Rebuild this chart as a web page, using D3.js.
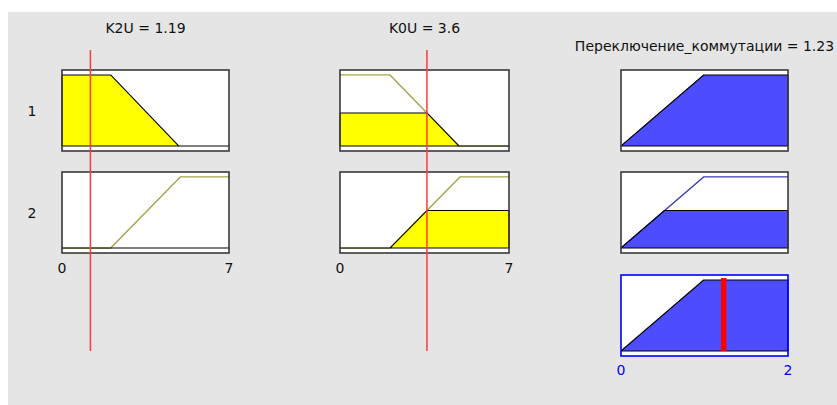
<!DOCTYPE html>
<html>
<head>
<meta charset="utf-8">
<script src="https://cdn.jsdelivr.net/npm/d3@7/dist/d3.min.js"></script>
<style>
  html, body { margin: 0; padding: 0; background: #fff; }
  svg { display: block; font-family: "DejaVu Sans", "Liberation Sans", Arial, sans-serif; }
</style>
</head>
<body>
<svg id="chart" width="837" height="405"></svg>
<script>
const inputLabels = ["K2U", "K0U"];
const inputValues = [1.19, 3.6];
const inputRange = [0, 7];
const outputLabel = "Переключение_коммутации";
const outputValue = 1.23;
const outputRange = [0, 2];
const ruleLabels = ["1", "2"];

// membership functions as [x, mu] breakpoints
const k2uMfs = [
  [[0, 1], [2.04, 1], [4.9, 0], [7, 0]],
  [[0, 0], [2.04, 0], [4.96, 1], [7, 1]],
];
const k0uMfs = [
  [[0, 1], [2.07, 1], [4.93, 0], [7, 0]],
  [[0, 0], [2.07, 0], [4.97, 1], [7, 1]],
];
const outputMfs = [
  [[0, 0], [0.99, 1], [2, 1]],
];
// which MF each rule uses: [input1, input2], output
const ruleInputMf = [[0, 0], [1, 1]];
const ruleOutputMf = [0, 0];

const inputMfs = [k2uMfs, k0uMfs];

const COLORS = {
  bg: "#e5e5e5",
  yellow: "#ffff00",
  blue: "#4d4dff",
  olive: "#a3a348",
  navy: "#3a3ab8",
  box: "#3a3a3a",
  red: "#ff3b3b",
};

function mu(points, x) {
  for (let i = 0; i < points.length - 1; i++) {
    const [x0, y0] = points[i];
    const [x1, y1] = points[i + 1];
    if (x >= x0 && x <= x1) return x1 === x0 ? y1 : y0 + (y1 - y0) * (x - x0) / (x1 - x0);
  }
  return 0;
}

// polyline of min(mu, level)
function clip(points, level) {
  const out = [];
  for (let i = 0; i < points.length; i++) {
    const [x0, y0] = points[i];
    out.push([x0, Math.min(y0, level)]);
    if (i < points.length - 1) {
      const [x1, y1] = points[i + 1];
      if ((y0 - level) * (y1 - level) < 0) {
        out.push([x0 + (x1 - x0) * (level - y0) / (y1 - y0), level]);
      }
    }
  }
  return out;
}

// rule strengths (OR -> max)
const inputDegrees = ruleInputMf.map((mfs) =>
  mfs.map((m, i) => mu(inputMfs[i][m], inputValues[i]))
);
const ruleStrength = inputDegrees.map((d) => d3.max(d));

const svg = d3.select("#chart");
svg.append("rect").attr("x", 8).attr("y", 12).attr("width", 829).attr("height", 393).attr("fill", COLORS.bg);

const colX = [[62, 229], [340, 509], [621, 788]];
const rowTop = [70, 172, 275];
const boxH = 81;
const FONT = 14;

function cellScales(col, row, domain) {
  const x = d3.scaleLinear().domain(domain).range(colX[col]);
  const y = d3.scaleLinear().domain([-0.07, 1.07]).range([rowTop[row] + boxH, rowTop[row]]);
  return { x, y };
}

function drawCell(col, row, domain, mfPoints, level, fillColor, lineColor, boxColor) {
  const { x, y } = cellScales(col, row, domain);
  const g = svg.append("g");
  g.append("rect")
    .attr("x", x.range()[0]).attr("y", rowTop[row])
    .attr("width", x.range()[1] - x.range()[0]).attr("height", boxH)
    .attr("fill", "#fff");

  const line = d3.line().x((d) => x(d[0])).y((d) => y(d[1]));
  if (lineColor) {
    g.append("path").attr("d", line(mfPoints)).attr("fill", "none")
      .attr("stroke", lineColor).attr("stroke-width", 1.3);
  }
  const clipped = clip(mfPoints, level);
  const poly = clipped.concat([[domain[1], 0], [domain[0], 0]]);
  g.append("path").attr("d", line(poly) + "Z")
    .attr("fill", fillColor).attr("stroke", "#000").attr("stroke-width", 1.1)
    .attr("stroke-linejoin", "round");

  g.append("rect")
    .attr("x", x.range()[0]).attr("y", rowTop[row])
    .attr("width", x.range()[1] - x.range()[0]).attr("height", boxH)
    .attr("fill", "none").attr("stroke", boxColor).attr("stroke-width", 1.6);
  return { x, y };
}

// input columns
inputLabels.forEach((label, i) => {
  ruleLabels.forEach((r, ri) => {
    const m = ruleInputMf[ri][i];
    const deg = inputDegrees[ri][i];
    drawCell(i, ri, inputRange, inputMfs[i][m], deg, COLORS.yellow, deg < 1 ? COLORS.olive : null, COLORS.box);
  });
  const x = d3.scaleLinear().domain(inputRange).range(colX[i]);
  svg.append("text")
    .attr("x", (colX[i][0] + colX[i][1]) / 2).attr("y", 33)
    .attr("text-anchor", "middle").attr("font-size", FONT).attr("fill", "#111")
    .text(`${label} = ${inputValues[i]}`);
  svg.selectAll(null).data(inputRange).join("text")
    .attr("x", (d) => x(d)).attr("y", 273)
    .attr("text-anchor", "middle").attr("font-size", FONT).attr("fill", "#111")
    .text((d) => d);
});

// output column, one row per rule
ruleLabels.forEach((r, ri) => {
  const level = ruleStrength[ri];
  drawCell(2, ri, outputRange, outputMfs[ruleOutputMf[ri]], level, COLORS.blue, level < 1 ? COLORS.navy : null, COLORS.box);
  svg.append("text")
    .attr("x", 32).attr("y", rowTop[ri] + boxH / 2 + 5)
    .attr("text-anchor", "middle").attr("font-size", FONT).attr("fill", "#111")
    .text(r);
});

// aggregated output
const aggMf = outputMfs[0].map(([px]) => [px, d3.max(ruleStrength.map((s, ri) => Math.min(s, mu(outputMfs[ruleOutputMf[ri]], px))))]);
const agg = drawCell(2, 2, outputRange, aggMf, 1, COLORS.blue, null, "#0000ff");
svg.append("line")
  .attr("x1", agg.x(outputValue)).attr("x2", agg.x(outputValue))
  .attr("y1", rowTop[2] + 3).attr("y2", rowTop[2] + boxH - 5)
  .attr("stroke", "#ff0000").attr("stroke-width", 5.5);
svg.selectAll(null).data(outputRange).join("text")
  .attr("x", (d) => agg.x(d)).attr("y", 375)
  .attr("text-anchor", "middle").attr("font-size", FONT).attr("fill", "#0000ff")
  .text((d) => d);
svg.append("text")
  .attr("x", (colX[2][0] + colX[2][1]) / 2).attr("y", 50.5)
  .attr("text-anchor", "middle").attr("font-size", FONT).attr("fill", "#111")
  .text(`${outputLabel} = ${outputValue}`);

// input value markers
inputValues.forEach((v, i) => {
  const x = d3.scaleLinear().domain(inputRange).range(colX[i]);
  svg.append("line")
    .attr("x1", x(v)).attr("x2", x(v)).attr("y1", 50).attr("y2", 351)
    .attr("stroke", COLORS.red).attr("stroke-width", 1.5);
});
</script>
</body>
</html>
